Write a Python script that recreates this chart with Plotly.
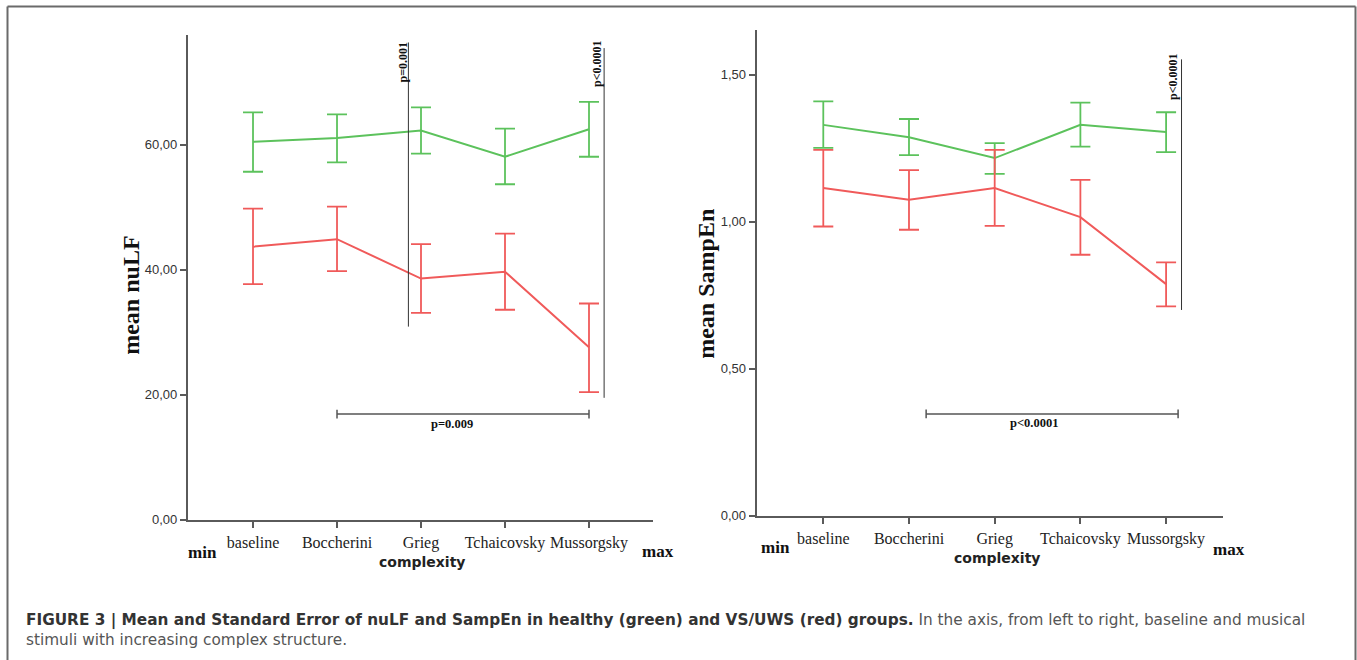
import plotly.graph_objects as go

W, H = 1357, 660
HS = 652.5  # effective vertical pixel scale observed in the rendered photo

categories = ["baseline", "Boccherini", "Grieg", "Tchaicovsky", "Mussorgsky"]

# nuLF (left panel)
nulf_healthy_mean = [60.5, 61.1, 62.3, 58.1, 62.5]
nulf_healthy_upper = [65.2, 64.9, 66.0, 62.6, 66.9]
nulf_healthy_lower = [55.7, 57.2, 58.6, 53.7, 58.1]
nulf_vs_mean = [43.7, 44.9, 38.6, 39.7, 27.6]
nulf_vs_upper = [49.8, 50.1, 44.1, 45.8, 34.6]
nulf_vs_lower = [37.7, 39.8, 33.1, 33.6, 20.4]

# SampEn (right panel)
sampen_healthy_mean = [1.330, 1.288, 1.217, 1.330, 1.306]
sampen_healthy_upper = [1.410, 1.350, 1.268, 1.406, 1.373]
sampen_healthy_lower = [1.252, 1.227, 1.163, 1.256, 1.237]
sampen_vs_mean = [1.115, 1.075, 1.115, 1.016, 0.788]
sampen_vs_upper = [1.245, 1.176, 1.245, 1.143, 0.862]
sampen_vs_lower = [0.984, 0.973, 0.986, 0.888, 0.712]

nulf_ticks = [0, 20, 40, 60]
nulf_ticktext = ["0,00", "20,00", "40,00", "60,00"]
sampen_ticks = [0, 0.5, 1.0, 1.5]
sampen_ticktext = ["0,00", "0,50", "1,00", "1,50"]

GREEN = "#5cc25c"
RED = "#f05a5a"

xpos = list(range(len(categories)))


def px(x):
    return x / W


def py(y):
    return 1 - y / HS


def err(mean, upper, lower):
    return [u - m for u, m in zip(upper, mean)], [m - l for m, l in zip(mean, lower)]


fig = go.Figure()


def add_series(mean, upper, lower, color, xa, ya):
    up, dn = err(mean, upper, lower)
    fig.add_trace(go.Scatter(
        x=xpos, y=mean, mode="lines", xaxis=xa, yaxis=ya,
        line=dict(color=color, width=2),
        error_y=dict(type="data", array=up, arrayminus=dn, symmetric=False,
                     color=color, thickness=1.8, width=10),
        showlegend=False, hoverinfo="skip"))


add_series(nulf_healthy_mean, nulf_healthy_upper, nulf_healthy_lower, GREEN, "x", "y")
add_series(nulf_vs_mean, nulf_vs_upper, nulf_vs_lower, RED, "x", "y")
add_series(sampen_healthy_mean, sampen_healthy_upper, sampen_healthy_lower, GREEN, "x2", "y2")
add_series(sampen_vs_mean, sampen_vs_upper, sampen_vs_lower, RED, "x2", "y2")

axis_col = "#5a5a5a"
xcommon = dict(tickmode="array", tickvals=xpos, ticktext=categories, tickangle=0,
               showgrid=False, zeroline=False, showline=True, linecolor=axis_col,
               linewidth=2.2, ticks="outside", ticklen=6, tickwidth=2, tickcolor=axis_col,
               tickfont=dict(family="Liberation Serif", size=16, color="#222"),
               ticklabelstandoff=1, fixedrange=True)
ycommon = dict(showgrid=False, zeroline=False, showline=True, linecolor=axis_col,
               linewidth=2.2, ticks="outside", ticklen=6, tickwidth=2, tickcolor=axis_col,
               tickfont=dict(family="Liberation Sans", size=13, color="#333"),
               tickmode="array", fixedrange=True)

fig.update_layout(
    width=W, height=H, autosize=False,
    margin=dict(l=0, r=0, t=0, b=0),
    paper_bgcolor="white", plot_bgcolor="white",
    xaxis=dict(domain=[px(188), px(653)], range=[-0.774, 4.762], anchor="y", **xcommon),
    yaxis=dict(domain=[py(520), py(35)], range=[0, 77.6], anchor="x",
               tickvals=nulf_ticks, ticktext=nulf_ticktext, **ycommon),
    xaxis2=dict(domain=[px(756.7), px(1223)], range=[-0.777, 4.664], anchor="y2", **xcommon),
    yaxis2=dict(domain=[py(516), py(30)], range=[0, 1.653], anchor="x2",
                tickvals=sampen_ticks, ticktext=sampen_ticktext, **ycommon),
)

shapes = []
line_dark = dict(color="#333333", width=1)
# left panel vertical significance lines
shapes.append(dict(type="line", xref="x", yref="y", x0=1.85, x1=1.85, y0=30.9, y1=76.4, line=line_dark))
shapes.append(dict(type="line", xref="x", yref="y", x0=4.18, x1=4.18, y0=19.5, y1=75.5, line=line_dark))
# left horizontal bracket
br = dict(color="#555555", width=1.5)
shapes.append(dict(type="line", xref="x", yref="y", x0=1, x1=4, y0=16.9, y1=16.9, line=br))
shapes.append(dict(type="line", xref="x", yref="y", x0=1, x1=1, y0=16.2, y1=17.6, line=br))
shapes.append(dict(type="line", xref="x", yref="y", x0=4, x1=4, y0=16.2, y1=17.6, line=br))
# right panel vertical line
shapes.append(dict(type="line", xref="x2", yref="y2", x0=4.18, x1=4.18, y0=0.70, y1=1.553, line=line_dark))
# right horizontal bracket
shapes.append(dict(type="line", xref="x2", yref="y2", x0=1.2, x1=4.14, y0=0.346, y1=0.346, line=br))
shapes.append(dict(type="line", xref="x2", yref="y2", x0=1.2, x1=1.2, y0=0.331, y1=0.361, line=br))
shapes.append(dict(type="line", xref="x2", yref="y2", x0=4.14, x1=4.14, y0=0.331, y1=0.361, line=br))
# figure frame
frame = dict(color="#6a6a6a", width=2)
shapes.append(dict(type="line", xref="paper", yref="paper", x0=px(7.5), x1=px(1355.5), y0=py(6.5), y1=py(6.5), line=frame))
shapes.append(dict(type="line", xref="paper", yref="paper", x0=px(7.5), x1=px(7.5), y0=py(6.5), y1=-0.05, line=frame))
shapes.append(dict(type="line", xref="paper", yref="paper", x0=px(1355.5), x1=px(1355.5), y0=py(6.5), y1=-0.05, line=frame))
fig.update_layout(shapes=shapes)

serif = "Liberation Serif"
ann = []


def text(x, y, s, size, family=serif, angle=0, color="#111", xanchor="center", align="center"):
    ann.append(dict(x=px(x), y=py(y), xref="paper", yref="paper", text=s, showarrow=False,
                    textangle=angle, font=dict(family=family, size=size, color=color),
                    xanchor=xanchor, yanchor="middle", align=align))


# p-values
text(402.5, 62, "<b>p=0.001</b>", 12, angle=-90)
text(597, 64, "<b>p<0.0001</b>", 12, angle=-90)
text(1173, 77, "<b>p<0.0001</b>", 12, angle=-90)
text(452, 424, "<b>p=0.009</b>", 12.5)
text(1034, 423, "<b>p<0.0001</b>", 12.5)

# axis titles
text(131, 296, "<b>mean nuLF</b>", 24, angle=-90)
text(706, 284, "<b>mean SampEn</b>", 24, angle=-90)
text(421.5, 562, "<b>complexity</b>", 14, family="DejaVu Sans", color="#222")
text(996.7, 558, "<b>complexity</b>", 14, family="DejaVu Sans", color="#222")
text(202, 553, "<b>min</b>", 17)
text(658, 552, "<b>max</b>", 17)
text(775, 548, "<b>min</b>", 17)
text(1229, 550, "<b>max</b>", 17)

# caption
cap = ("<b>FIGURE 3 | Mean and Standard Error of nuLF and SampEn in healthy (green) and VS/UWS (red) groups.</b>"
       "<span style='color:#555'> In the axis, from left to right, baseline and musical</span><br>"
       "<span style='color:#555'>stimuli with increasing complex structure.</span>")
ann.append(dict(x=px(24), y=py(630), xref="paper", yref="paper", text=cap, showarrow=False,
                font=dict(family="DejaVu Sans", size=15.3, color="#333"),
                xanchor="left", yanchor="middle", align="left"))

fig.update_layout(annotations=ann)

fig.write_html("out.html",
               config={"displayModeBar": False, "responsive": False},
               post_script="document.body.style.margin='0px';document.body.style.overflow='hidden';")
